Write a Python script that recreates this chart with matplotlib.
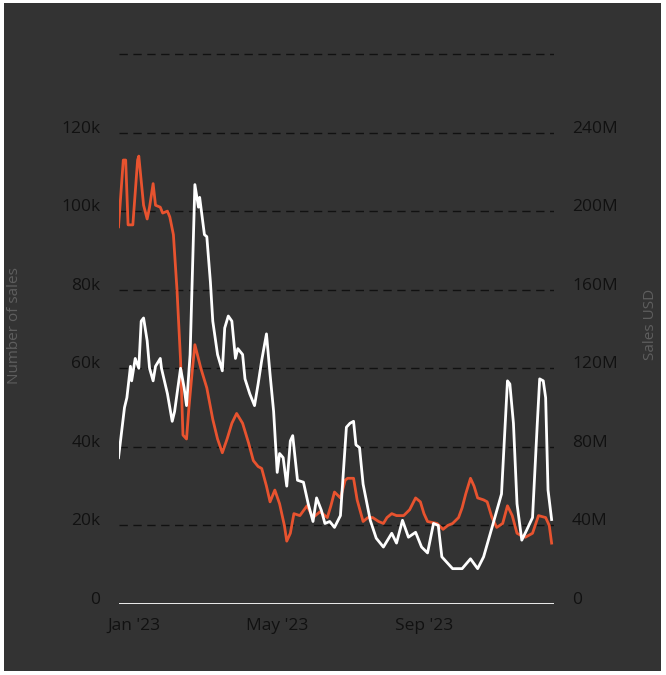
import numpy as np
import matplotlib
matplotlib.use("Agg")
import matplotlib.pyplot as plt
import matplotlib.dates as mdates
from matplotlib.patches import Rectangle
import pandas as pd

plt.rcParams['font.family'] = ['Open Sans', 'DejaVu Sans']

# giorni dal 1 gen 2023 e numero di vendite (migliaia)
red_days = [-13, -9, -7, -5, -1, 3, 4, 8, 11, 13, 16, 18, 22, 24, 28, 30, 33, 36, 39, 41,
            44, 46, 49, 51, 56, 61, 66, 70, 74, 78, 82, 86, 91, 96, 100, 104, 107, 111, 114, 118,
            122, 126, 128, 131, 134, 139, 145, 150, 156, 162, 165, 168, 173, 177, 179, 184, 187, 192, 196, 200,
            205, 209, 212, 216, 220, 226, 231, 236, 240, 243, 246, 254, 259, 263, 267, 272, 275, 278, 282, 285,
            288, 293, 296, 300, 304, 309, 313, 317, 321, 324, 328, 334, 339, 345, 348, 350]
red_k = [96, 113, 113, 96.5, 96.5, 113, 114, 101.5, 98, 101, 107, 101.5, 101, 99.5, 100, 98.5, 94, 80, 62, 43,
         42, 50, 60, 66, 60, 55, 47, 42, 38.5, 42, 46, 48.5, 46, 41, 36.5, 35, 34.5, 30, 26, 29,
         25.5, 20, 16, 18, 23, 22.5, 25, 22, 23.5, 22, 25, 28.5, 27, 31.5, 32, 32, 26.5, 21, 22, 22,
         21, 20.5, 22, 23, 22.5, 22.5, 24, 27, 26, 23, 21, 20.5, 19, 20, 20.5, 22, 24.5, 28, 32, 30,
         27, 26.5, 26, 22, 19.5, 20.5, 25, 22.5, 18, 17.5, 17, 18, 22.5, 22, 20, 15.5]

# giorni dal 1 gen 2023 e vendite in USD (milioni)
white_days = [-13, -8, -6, -3, -2, 1, 4, 6, 8, 11, 13, 16, 18, 22, 23, 28, 32, 34, 39, 42,
              44, 47, 51, 54, 55, 59, 61, 64, 66, 70, 74, 76, 79, 82, 85, 87, 91, 93, 97, 101,
              104, 107, 111, 114, 117, 120, 122, 125, 128, 131, 133, 137, 142, 146, 150, 153, 157, 160, 164, 168,
              173, 178, 181, 184, 186, 189, 192, 198, 203, 209, 216, 220, 225, 230, 236, 241, 246, 251, 255, 258,
              267, 275, 282, 288, 293, 301, 308, 313, 315, 318, 321, 325, 329, 334, 338, 340, 343, 345, 347, 350]
white_m = [74.5, 100, 105, 121, 113.6, 125, 120, 144, 145.6, 134, 120, 113.6, 121, 125, 120, 107, 93, 98, 120, 110,
           101, 127, 213.5, 202, 207, 188, 187, 164, 144, 127, 118.7, 140.5, 146.6, 144, 125, 130, 127, 114.6, 107, 101,
           112, 124, 137.5, 117, 98, 67, 76.6, 74.5, 60, 83, 85.7, 63, 62, 51, 42, 54, 47.7, 41, 42, 39,
           45, 90, 92, 93, 81, 79.6, 61, 42.6, 33.5, 29, 36, 31, 42.6, 34, 36.5, 29, 26, 41, 40, 24,
           18, 18, 23, 18, 24, 41, 56, 113.6, 112, 92, 51, 32.5, 37.5, 44, 92, 114.6, 113.6, 105, 58, 43]

left_ticks = [0, 20, 40, 60, 80, 100, 120]
left_labels = ['0', '20k', '40k', '60k', '80k', '100k', '120k']
grid_k = [20, 40, 60, 80, 100, 120, 140]
right_ticks = [0, 40, 80, 120, 160, 200, 240]
right_labels = ['0', '40M', '80M', '120M', '160M', '200M', '240M']

start = pd.Timestamp('2023-01-01')
red_x = start + pd.to_timedelta(red_days, unit='D')
white_x = start + pd.to_timedelta(white_days, unit='D')

fig = plt.figure(figsize=(6.66, 6.75), dpi=100)
fig.patch.set_facecolor('white')
fig.patches.append(Rectangle((4 / 666, 4 / 675), 657 / 666, 668 / 675,
                             transform=fig.transFigure, facecolor='#333333',
                             edgecolor='none', zorder=-10))

ax = fig.add_axes([119 / 666, 1 - 604 / 675, 435 / 666, 552 / 675])
ax.set_facecolor('none')
ax2 = ax.twinx()
ax2.set_facecolor('none')

for g in grid_k:
    ax.axhline(g, color='#111111', lw=1.0, linestyle=(0, (6, 4)), zorder=1)
ax.axhline(0, color='#eeeeee', lw=1.4, zorder=2)

ax.plot(red_x, red_k, color='#e8532f', lw=2.0, zorder=3)
ax2.plot(white_x, white_m, color='#ffffff', lw=2.0, zorder=4)

ax.set_xlim(start - pd.Timedelta(days=12.6), start + pd.Timedelta(days=352))
ax.set_ylim(0, 140.5)
ax2.set_ylim(0, 281)

ax.set_yticks(left_ticks)
ax.set_yticklabels(left_labels)
ax2.set_yticks(right_ticks)
ax2.set_yticklabels(right_labels)

ax.xaxis.set_major_locator(mdates.MonthLocator(bymonth=[1, 5, 9]))
ax.xaxis.set_major_formatter(mdates.DateFormatter("%b '%y"))

for a in (ax, ax2):
    for s in a.spines.values():
        s.set_visible(False)
    a.tick_params(length=0, labelsize=12.5, labelcolor='#111111')
ax.tick_params(axis='y', pad=13.5)
ax2.tick_params(axis='y', pad=13)
ax.tick_params(axis='x', pad=10)
for t in ax.get_yticklabels() + ax2.get_yticklabels():
    t.set_va('baseline')

fig.text(14 / 666, 1 - 326 / 675, 'Number of sales', rotation=90, color='#5e5e5e',
         fontsize=11, ha='center', va='center')
fig.text(650 / 666, 1 - 324 / 675, 'Sales USD', rotation=90, color='#5e5e5e',
         fontsize=11, ha='center', va='center')

fig.savefig('out.png', dpi=100, facecolor=fig.get_facecolor())
